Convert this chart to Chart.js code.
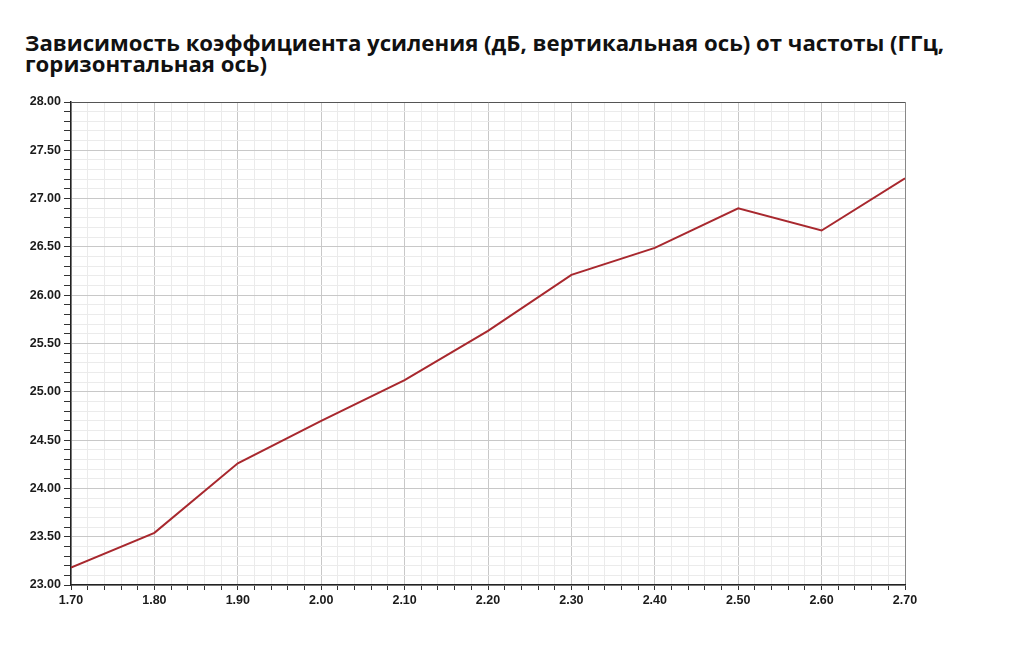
<!DOCTYPE html>
<html>
<head>
<meta charset="utf-8">
<script src="https://cdn.jsdelivr.net/npm/chart.js@4"></script>
<style>
  html, body { margin: 0; padding: 0; background: #fff; }
  #wrap { position: relative; width: 1020px; height: 651px; }
  #title { position: absolute; left: 25px; top: 32px; font-family: "Open Sans", sans-serif; font-weight: 700; font-size: 22.2px; line-height: 21px; color: #111; white-space: nowrap; }
  canvas { position: absolute; left: 0; top: 0; }
</style>
</head>
<body>
<div id="wrap">
  <div id="title">Зависимость коэффициента усиления (дБ, вертикальная ось) от частоты (ГГц,<br>горизонтальная ось)</div>
  <canvas id="c" width="1020" height="651"></canvas>
</div>
<script>
const frequencies = [1.70, 1.80, 1.90, 2.00, 2.10, 2.20, 2.30, 2.40, 2.50, 2.60, 2.70];
const gainDb = [23.18, 23.54, 24.26, 24.70, 25.12, 25.63, 26.21, 26.49, 26.90, 26.67, 27.21];
const xRange = [1.70, 2.70];
const yRange = [23.00, 28.00];

const points = frequencies.map((f, i) => ({ x: f, y: gainDb[i] }));

const tickFont = { family: '"Liberation Sans", Arial, sans-serif', weight: 'bold', size: 12.5 };

new Chart(document.getElementById('c'), {
  type: 'scatter',
  data: {
    datasets: [{
      data: points,
      showLine: true,
      borderColor: '#a8282e',
      borderWidth: 2,
      pointRadius: 0,
      tension: 0
    }]
  },
  options: {
    responsive: false,
    animation: false,
    plugins: { legend: { display: false }, tooltip: { enabled: false } },
    layout: { padding: { top: 102, right: 115, left: 0, bottom: 0 } },
    scales: {
      x: {
        type: 'linear', min: xRange[0], max: xRange[1],
        afterBuildTicks: (s) => {
          const t = [];
          for (let i = 0; i <= 50; i++) t.push({ value: xRange[0] + i * 0.02 });
          s.ticks = t;
        },
        afterFit: (s) => { s.height = 66; },
        border: { color: '#222', width: 1.5 },
        grid: {
          color: (ctx) => {
            const i = ctx.index;
            if (i === 50) return '#888';
            return i % 5 === 0 ? '#c8c8c8' : '#ebebeb';
          },
          lineWidth: 1,
          tickColor: '#333',
          tickLength: 5
        },
        ticks: {
          autoSkip: false, maxRotation: 0, padding: 3,
          color: '#1a1a1a', font: tickFont,
          callback: function (v, i) { return i % 5 === 0 ? (xRange[0] + i * 0.02).toFixed(2) : ''; }
        }
      },
      y: {
        type: 'linear', min: yRange[0], max: yRange[1],
        afterBuildTicks: (s) => {
          const t = [];
          for (let i = 0; i <= 50; i++) t.push({ value: yRange[0] + i * 0.1 });
          s.ticks = t;
        },
        afterFit: (s) => { s.width = 71; },
        border: { color: '#222', width: 1.5 },
        grid: {
          color: (ctx) => {
            const i = ctx.index;
            if (i === 50) return '#555';
            return i % 5 === 0 ? '#c8c8c8' : '#ebebeb';
          },
          lineWidth: 1,
          tickColor: '#333',
          tickLength: 7
        },
        ticks: {
          autoSkip: false, padding: 3,
          color: '#1a1a1a', font: tickFont,
          callback: function (v, i) { return i % 5 === 0 ? (yRange[0] + i * 0.1).toFixed(2) : ''; }
        }
      }
    }
  }
});
</script>
</body>
</html>
